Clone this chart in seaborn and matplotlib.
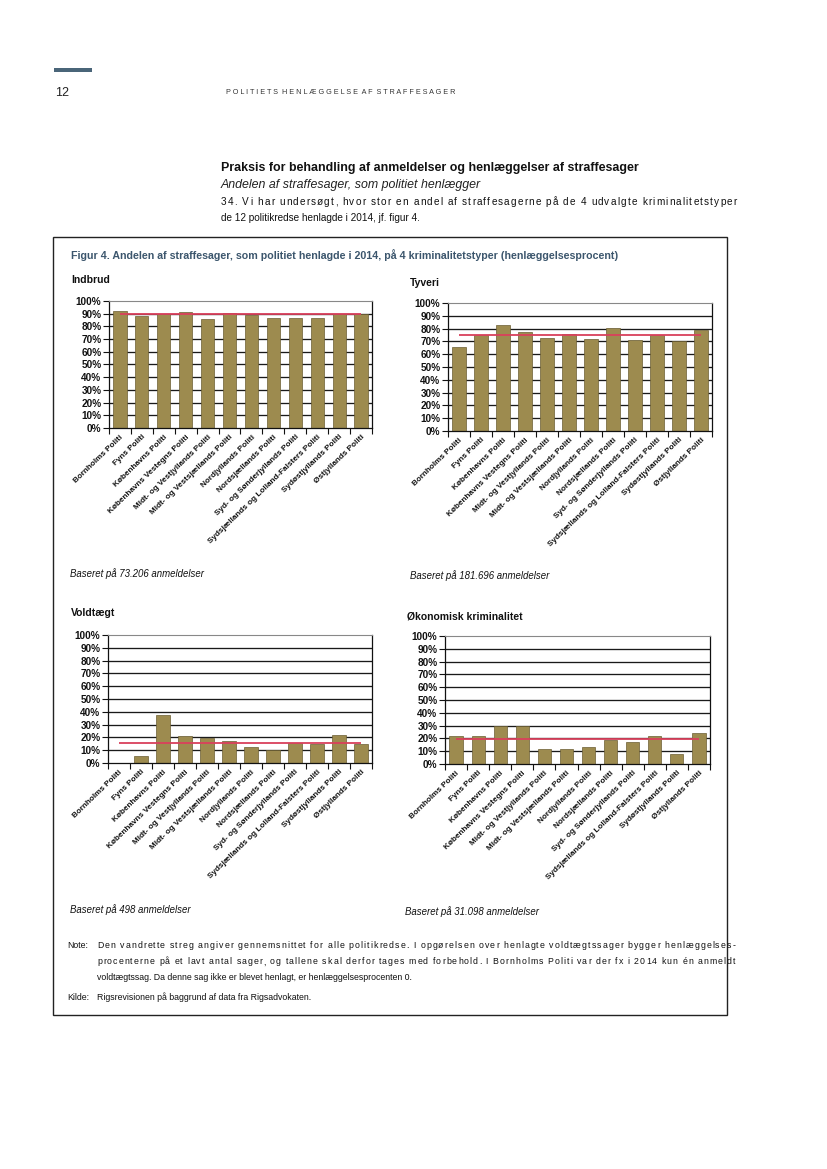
import numpy as np
import pandas as pd
import matplotlib
matplotlib.use("Agg")
import matplotlib.pyplot as plt
from matplotlib.patches import Rectangle
from matplotlib.ticker import FixedLocator
import seaborn as sns

# ---------------- data ----------------
kredse = [
    "Bornholms Politi", "Fyns Politi", "Københavns Politi",
    "Københavns Vestegns Politi", "Midt- og Vestjyllands Politi",
    "Midt- og Vestsjællands Politi", "Nordjyllands Politi",
    "Nordsjællands Politi", "Syd- og Sønderjyllands Politi",
    "Sydsjællands og Lolland-Falsters Politi", "Sydøstjyllands Politi",
    "Østjyllands Politi",
]
indbrud = [92, 88, 90, 91, 86, 90.5, 89, 87, 87, 87, 89.5, 89.5]
tyveri = [66, 75, 83, 77, 73, 76, 72, 80.5, 71, 75, 70, 79]
voldtaegt = [0, 5.5, 37.5, 21, 19.5, 17, 12.5, 10.5, 15.5, 15, 22, 15]
oekonomisk = [22, 21.5, 30, 30, 11.5, 11.5, 13.5, 19, 17.5, 22, 8, 24]
gennemsnit = [90, 75, 16, 19.5]
panel_titler = ["Indbrud", "Tyveri", "Voldtægt", "Økonomisk kriminalitet"]
baseret = ["Baseret på 73.206 anmeldelser", "Baseret på 181.696 anmeldelser",
           "Baseret på 498 anmeldelser", "Baseret på 31.098 anmeldelser"]
y_ticks = [0, 10, 20, 30, 40, 50, 60, 70, 80, 90, 100]
y_labels = [f"{v}%" for v in y_ticks]

# ---------------- style ----------------
sns.set_theme(style="white")
plt.rcParams["font.family"] = ["Liberation Sans", "DejaVu Sans"]

W, H = 828, 1169
fig = plt.figure(figsize=(W / 100, H / 100), dpi=100)
fig.patch.set_facecolor("white")
renderer = fig.canvas.get_renderer()

def fx(x):
    return x / W

def fy(y):
    return 1 - y / H

def txt(x, y, s, **kw):
    return fig.text(fx(x), fy(y), s, va="center", ha="left", **kw)

def text_width(s, **kw):
    t = fig.text(0, 0, s, **kw)
    w = t.get_window_extent(renderer=renderer).width
    t.remove()
    return w

def justified(x0, x1, y, s, **kw):
    """Spread the characters of a line so that it fills x0..x1 (justified text)."""
    bar_w = text_width("|", **kw)
    prefix = [0.0] + [text_width(s[:k] + "|", **kw) - bar_w for k in range(1, len(s))]
    natural = text_width(s, **kw)
    extra = (x1 - x0 - natural) / max(len(s) - 1, 1)
    for k, ch in enumerate(s):
        if ch == " ":
            continue
        txt(x0 + prefix[k] + k * extra, y, ch, **kw)

BAR = "#9d8b4f"
EDGE = "#6b5e33"
RED = "#d9405c"
TITLEBLUE = "#3c566d"

# header
fig.add_artist(Rectangle((fx(54), fy(72)), fx(92) - fx(54), fy(68) - fy(72),
                         transform=fig.transFigure, color="#4a6579", lw=0))
txt(55, 93, "12", fontsize=9, color="#222")
txt(226, 93, "P O L I T I E T S  H E N L Æ G G E L S E  A F  S T R A F F E S A G E R",
    fontsize=5.2, color="#333")

# intro text
txt(221, 168, "Praksis for behandling af anmeldelser og henlæggelser af straffesager",
    fontsize=8.9, fontweight="bold", color="#111")
txt(221, 185, "Andelen af straffesager, som politiet henlægger",
    fontsize=8.9, style="italic", color="#222")
justified(221, 737, 202,
          "34. Vi har undersøgt, hvor stor en andel af straffesagerne på de 4 udvalgte kriminalitetstyper",
          fontsize=7.2, color="#111")
txt(221, 218, "de 12 politikredse henlagde i 2014, jf. figur 4.", fontsize=7.2, color="#111")

# figure box
fig.add_artist(Rectangle((fx(53), fy(1015)), fx(727) - fx(53), fy(237) - fy(1015),
                         transform=fig.transFigure, fill=False, ec="#222", lw=1.0))
txt(71, 255, "Figur 4. Andelen af straffesager, som politiet henlagde i 2014, på 4 kriminalitetstyper (henlæggelsesprocent)",
    fontsize=7.65, fontweight="bold", color=TITLEBLUE)

series = [indbrud, tyveri, voldtaegt, oekonomisk]
# (x0, x1, ytop, ybottom) in pixels
boxes = [(109, 372, 301, 428), (448, 712, 303, 431),
         (108, 372, 635, 763), (445, 710, 636, 764)]
title_pos = [(71, 280), (410, 283), (71, 613), (407, 617)]
base_pos = [(70, 574), (410, 576), (70, 910), (405, 912)]

for i, vals in enumerate(series):
    x0, x1, yt, yb = boxes[i]
    ax = fig.add_axes([fx(x0), fy(yb), fx(x1) - fx(x0), fy(yt) - fy(yb)])
    df = pd.DataFrame({"kreds": kredse, "pct": vals})
    ax.set_axisbelow(True)
    for g in y_ticks[1:-1]:
        ax.axhline(g, color="#1a1a1a", lw=0.95, zorder=0)
    sns.barplot(data=df, x="kreds", y="pct", ax=ax, color=BAR, width=0.6,
                edgecolor=EDGE, linewidth=0.5, saturation=1, zorder=2)
    ax.hlines(gennemsnit[i], 0, len(kredse) - 1, color=RED, lw=1.3, zorder=3)
    ax.set_xlim(-0.5, len(kredse) - 0.5)
    ax.set_ylim(0, 100)
    ax.set_yticks(y_ticks)
    ax.set_yticklabels(y_labels, fontsize=7.2, fontweight="bold", color="#111")
    ax.set_xlabel("")
    ax.set_ylabel("")
    ax.set_xticks(range(len(kredse)))
    ax.set_xticklabels(kredse, rotation=44, ha="right", rotation_mode="anchor",
                       fontsize=5.9, fontweight="bold", color="#111")
    ax.xaxis.set_minor_locator(FixedLocator(np.arange(-0.5, len(kredse), 1.0)))
    ax.tick_params(axis="x", which="major", length=0, pad=4)
    ax.tick_params(axis="x", which="minor", length=4, width=0.8, color="#111", direction="out", bottom=True)
    ax.tick_params(axis="y", which="major", length=4, width=0.8, color="#111", direction="out", left=True, pad=1.5)
    for s in ["left", "right", "bottom"]:
        ax.spines[s].set_color("#111")
        ax.spines[s].set_linewidth(0.9)
    ax.spines["top"].set_color("#888")
    ax.spines["top"].set_linewidth(0.8)
    ax.grid(False)
    ax.set_facecolor("white")

    tx, ty = title_pos[i]
    txt(tx, ty, panel_titler[i], fontsize=7.5, fontweight="bold", color="#111")
    bx, by = base_pos[i]
    txt(bx, by, baseret[i], fontsize=6.9, style="italic", color="#111")

# notes
note_lines = [
    "Den vandrette streg angiver gennemsnittet for alle politikredse. I opgørelsen over henlagte voldtægtssager bygger henlæggelses-",
    "procenterne på et lavt antal sager, og tallene skal derfor tages med forbehold. I Bornholms Politi var der fx i 2014 kun én anmeldt",
    "voldtægtssag. Da denne sag ikke er blevet henlagt, er henlæggelsesprocenten 0.",
]
NOTE_FS = 6.3
txt(67, 946, "Note:", fontsize=NOTE_FS, color="#111")
for k, line in enumerate(note_lines):
    if k < len(note_lines) - 1:
        justified(97, 735, 946 + 16 * k, line, fontsize=NOTE_FS, color="#111")
    else:
        txt(97, 946 + 16 * k, line, fontsize=NOTE_FS, color="#111")
txt(67, 997, "Kilde:", fontsize=NOTE_FS, color="#111")
txt(97, 997, "Rigsrevisionen på baggrund af data fra Rigsadvokaten.", fontsize=NOTE_FS, color="#111")

fig.savefig("out.png", dpi=100, facecolor="white")
